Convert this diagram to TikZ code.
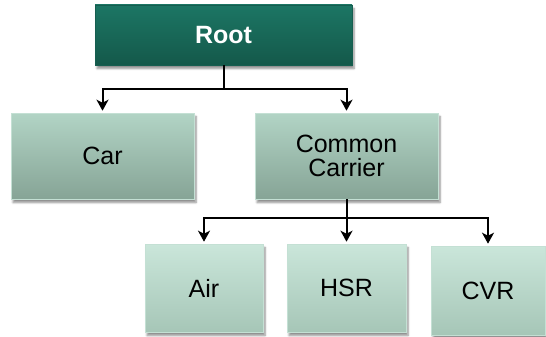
\documentclass[tikz,border=0pt]{standalone}
\usepackage{fontspec}
\setmainfont{Liberation Sans}
\usetikzlibrary{arrows.meta,calc,shadows.blur}

\definecolor{rootTop}{RGB}{28,118,100}
\definecolor{rootBot}{RGB}{20,88,74}
\definecolor{midTop}{RGB}{178,212,197}
\definecolor{midBot}{RGB}{134,164,150}
\definecolor{lowTop}{RGB}{202,230,218}
\definecolor{lowBot}{RGB}{166,198,183}
\definecolor{boxEdge}{RGB}{196,224,212}

\tikzset{
  box/.style={rectangle, draw=boxEdge, line width=0.6pt, align=center,
    font=\fontsize{25}{24}\selectfont, text=black,
    blur shadow={shadow xshift=2pt, shadow yshift=-3.5pt, shadow blur steps=6, shadow opacity=45}},
  rootbox/.style={box, draw=rootTop!80!black, top color=rootTop, bottom color=rootBot,
    text=white, font=\fontsize{25}{24}\selectfont\bfseries},
  midbox/.style={box, top color=midTop, bottom color=midBot},
  lowbox/.style={box, top color=lowTop, bottom color=lowBot},
  link/.style={line width=2pt, -{Stealth[length=11pt,width=12pt,inset=3pt]}, shorten >=2pt}
}

\begin{document}
\begin{tikzpicture}[x=1pt,y=-1pt]
  \useasboundingbox (0,0) rectangle (546,337);

  % top level
  \node[rootbox, minimum width=257pt, minimum height=60pt] (root) at (223.5,35) {Root};

  % second level
  \node[midbox, minimum width=183pt, minimum height=86pt] (car) at (102.5,156) {Car};
  \node[midbox, minimum width=183pt, minimum height=86pt] (cc) at (346.5,156) {Common\\Carrier};

  % third level
  \node[lowbox, minimum width=118pt, minimum height=88pt] (air) at (204,288) {Air};
  \node[lowbox, minimum width=119pt, minimum height=88pt] (hsr) at (346.5,288) {HSR};
  \node[lowbox, minimum width=114pt, minimum height=89pt] (cvr) at (488,290.5) {CVR};

  % connectors
  \coordinate (j1) at ($(root.south)+(0,24)$);
  \draw[link] (root.south) -- (j1) -| (car.north);
  \draw[link] (j1) -| (cc.north);

  \coordinate (j2) at ($(cc.south)+(0,19)$);
  \draw[link] (cc.south) -- (j2) -| (air.north);
  \draw[link] (j2) -- (hsr.north);
  \draw[link] (j2) -| (cvr.north);
\end{tikzpicture}
\end{document}
